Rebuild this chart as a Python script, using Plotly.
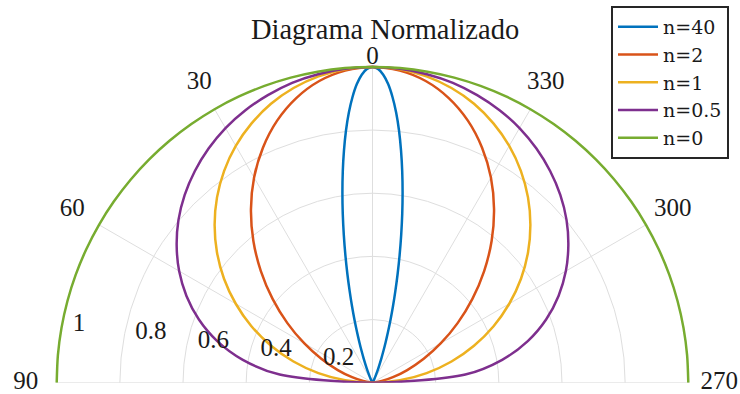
import math
import plotly.graph_objects as go

# Normalized radiation patterns r = cos^n(theta), one-sided (0..90 deg), mirrored below
ANGLES = [0, 5, 10, 15, 20, 25, 30, 35, 40, 45, 50, 55, 60, 65, 70, 75, 80, 85, 90]
R_N2 = [1.000, 0.992, 0.970, 0.933, 0.883, 0.821, 0.750, 0.671, 0.587, 0.500,
        0.413, 0.329, 0.250, 0.179, 0.117, 0.067, 0.030, 0.008, 0.000]
R_N1 = [1.000, 0.996, 0.985, 0.966, 0.940, 0.906, 0.866, 0.819, 0.766, 0.707,
        0.643, 0.574, 0.500, 0.423, 0.342, 0.259, 0.174, 0.087, 0.000]
R_N05 = [1.000, 0.998, 0.992, 0.983, 0.969, 0.952, 0.931, 0.905, 0.875, 0.841,
         0.802, 0.757, 0.707, 0.650, 0.585, 0.509, 0.417, 0.295, 0.000]
R_N0 = [1.0, 1.0, 1.0, 1.0, 1.0, 1.0, 1.0, 1.0, 1.0, 1.0,
        1.0, 1.0, 1.0, 1.0, 1.0, 1.0, 1.0, 1.0, 1.0]

# The n=40 lobe is narrow, so it is sampled more densely near broadside
ANGLES_N40 = [0, 1, 2, 3, 4, 5, 6, 7, 8, 9, 10, 11, 12, 13, 14, 15, 16, 17, 18, 19, 20,
              22, 24, 26, 28, 30, 35, 45, 90]
R_N40 = [1.000, 0.994, 0.976, 0.947, 0.907, 0.859, 0.803, 0.741, 0.676, 0.609, 0.542,
         0.476, 0.413, 0.354, 0.299, 0.250, 0.206, 0.167, 0.134, 0.106, 0.083,
         0.049, 0.027, 0.014, 0.007, 0.003, 0.000, 0.000, 0.000]

SERIES = [
    ("n=40", ANGLES_N40, R_N40, "#0072BD"),
    ("n=2", ANGLES, R_N2, "#D95319"),
    ("n=1", ANGLES, R_N1, "#EDB120"),
    ("n=0.5", ANGLES, R_N05, "#7E2F8E"),
    ("n=0", ANGLES, R_N0, "#77AC30"),
]

RADIAL_TICKS = [0.2, 0.4, 0.6, 0.8, 1.0]
RADIAL_TICK_TEXT = ["0.2", "0.4", "0.6", "0.8", "1"]
ANGULAR_TICKS = [0, 30, 60, 90, 270, 300, 330]
ANGULAR_TICK_TEXT = ["0", "30", "60", "90", "270", "300", "330"]

FONT = "Liberation Serif"
LEGEND_FONT = "DejaVu Serif"
TEXT_COLOR = "#1a1a1a"
GRID_COLOR = "#dedede"
TICK_SIZE = 25

# The subplot reaches a bit past r = 1 so the angular labels can live inside it
R_OUTER = 1.0
R_FRAME = 1.15
CX, CY, R_PX = 372.5, 382.7, 315.8  # pixel centre and radius of the unit ring
W, H = 740, 394


def mirrored(angles, radii):
    theta = [-a for a in reversed(angles[1:])] + list(angles)
    r = list(reversed(radii[1:])) + list(radii)
    return theta, r


fig = go.Figure()

# Angular grid spokes, stopping at the unit ring
spoke_r, spoke_t = [], []
for t in ANGULAR_TICKS:
    spoke_r += [0, R_OUTER, None]
    spoke_t += [t, t, None]
fig.add_trace(go.Scatterpolar(
    r=spoke_r, theta=spoke_t, mode="lines",
    line=dict(color=GRID_COLOR, width=1),
    showlegend=False, hoverinfo="skip",
))

for name, ang, rad, color in SERIES:
    theta, r = mirrored(ang, rad)
    fig.add_trace(go.Scatterpolar(
        r=r, theta=theta, mode="lines", name=name,
        line=dict(color=color, width=2.5, shape="spline", smoothing=0.8),
        hoverinfo="skip",
    ))

# Radial tick labels sit along a line tilted slightly above the 90-degree direction,
# shifted a little inward/upward from it (offsets in radius units).
axis_tilt = math.radians(7.7)
off_x, off_y = 0.0415, 0.0497
lab_r, lab_t = [], []
for v in RADIAL_TICKS:
    x = -v * math.cos(axis_tilt) + off_x
    y = v * math.sin(axis_tilt) + off_y
    lab_r.append(math.hypot(x, y))
    lab_t.append(math.degrees(math.atan2(-x, y)))

fig.add_trace(go.Scatterpolar(
    r=lab_r, theta=lab_t, mode="text", text=RADIAL_TICK_TEXT,
    textposition="middle right",
    textfont=dict(family=FONT, size=TICK_SIZE, color=TEXT_COLOR),
    showlegend=False, hoverinfo="skip",
))

# Angular tick labels centred just outside the unit ring; the broadside
# label sits directly on top of the ring.
ring_gap = 1.098
ang_r = [0.99 if t == 0 else ring_gap for t in ANGULAR_TICKS]
ang_pos = ["top center" if t == 0 else "middle center" for t in ANGULAR_TICKS]
fig.add_trace(go.Scatterpolar(
    r=ang_r, theta=ANGULAR_TICKS, mode="text", text=ANGULAR_TICK_TEXT,
    textposition=ang_pos, cliponaxis=False,
    textfont=dict(family=FONT, size=TICK_SIZE, color=TEXT_COLOR),
    showlegend=False, hoverinfo="skip",
))

frame_px = R_PX * R_FRAME / R_OUTER
fig.update_layout(
    width=W, height=H,
    margin=dict(l=0, r=0, t=0, b=0),
    paper_bgcolor="white",
    font=dict(family=FONT, color=TEXT_COLOR),
    title=dict(
        text="Diagrama Normalizado",
        x=0.5203, xanchor="center",
        y=1 - 29.5 / H, yanchor="middle",
        font=dict(family=FONT, size=28.5, color=TEXT_COLOR),
    ),
    polar=dict(
        domain=dict(
            x=[(CX - frame_px) / W, (CX + frame_px) / W],
            y=[(H - CY) / H, (H - CY + frame_px) / H],
        ),
        sector=[0, 180],
        bgcolor="white",
        radialaxis=dict(
            range=[0, R_FRAME],
            tickmode="array", tickvals=RADIAL_TICKS,
            showticklabels=False, ticks="",
            showline=False,
            gridcolor=GRID_COLOR, gridwidth=1,
            layer="below traces",
        ),
        angularaxis=dict(
            rotation=90, direction="counterclockwise",
            tickmode="array", tickvals=ANGULAR_TICKS,
            showticklabels=False, ticks="",
            showline=False, showgrid=False,
            layer="below traces",
        ),
    ),
    legend=dict(
        x=729 / W, xanchor="right",
        y=1 - 6 / H, yanchor="top",
        bgcolor="white",
        bordercolor="#262626", borderwidth=2,
        font=dict(family=LEGEND_FONT, size=19, color=TEXT_COLOR),
        itemwidth=40,
    ),
)

fig.write_html("out.html")
